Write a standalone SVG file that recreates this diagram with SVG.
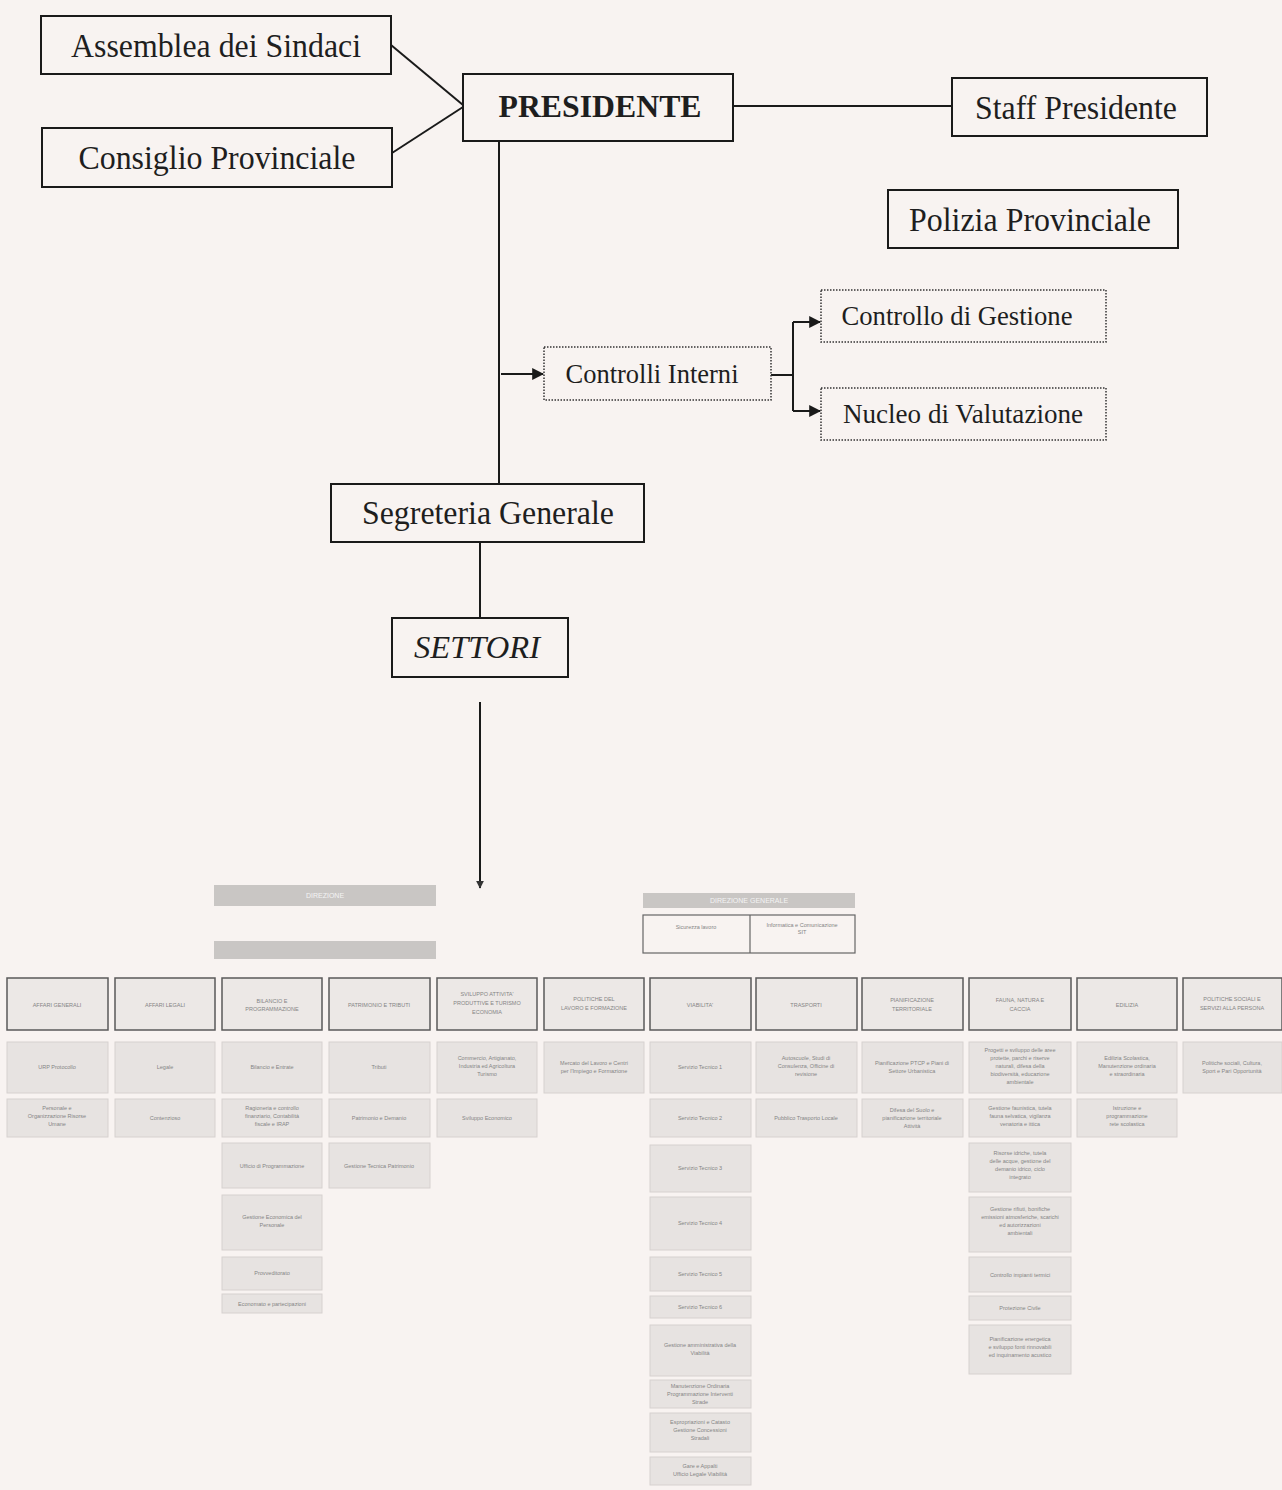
<svg xmlns="http://www.w3.org/2000/svg" width="1282" height="1490" viewBox="0 0 1282 1490">
<defs>
<marker id="ah" viewBox="0 0 10 10" refX="9" refY="5" markerWidth="12" markerHeight="12" markerUnits="userSpaceOnUse" orient="auto"><path d="M0,0 L10,5 L0,10 z" fill="#1a1a1a"/></marker>
<marker id="ahs" viewBox="0 0 10 10" refX="9" refY="5" markerWidth="8" markerHeight="8" markerUnits="userSpaceOnUse" orient="auto"><path d="M0,0 L10,5 L0,10 z" fill="#333"/></marker>
</defs>
<style>
.bx{fill:#f8f3f1;stroke:#1a1a1a;stroke-width:2}
.dbx{fill:#f8f3f1;stroke:#333;stroke-width:1.5;stroke-dasharray:1.5 1.5}
.t{font-family:"Liberation Serif","Times New Roman",serif;fill:#1e1e1e;text-anchor:middle}
.ln{stroke:#1a1a1a;stroke-width:2;fill:none}
.sec{fill:#ece8e6;stroke:#5a5a5a;stroke-width:1.5}
.sub{fill:#e7e3e1;stroke:#d6d1cf;stroke-width:1}
.bar{fill:#c9c6c4}
.st{font-family:"Liberation Sans",Arial,sans-serif;font-size:5.5px;fill:#858585;text-anchor:middle}
.bt{font-family:"Liberation Sans",Arial,sans-serif;font-size:7px;fill:#f4f4f4;text-anchor:middle}
</style>
<rect width="1282" height="1490" fill="#f8f3f1"/>

<g id="connectors">
<line class="ln" x1="391" y1="45" x2="463" y2="105"/>
<line class="ln" x1="392" y1="153" x2="463" y2="107"/>
<line class="ln" x1="733" y1="106" x2="952" y2="106"/>
<line class="ln" x1="499" y1="141" x2="499" y2="484"/>
<line class="ln" x1="501" y1="374" x2="543" y2="374" marker-end="url(#ah)"/>
<line class="ln" x1="771" y1="375" x2="793" y2="375"/>
<line class="ln" x1="793" y1="322" x2="793" y2="411"/>
<line class="ln" x1="793" y1="322" x2="820" y2="322" marker-end="url(#ah)"/>
<line class="ln" x1="793" y1="411" x2="820" y2="411" marker-end="url(#ah)"/>
<line class="ln" x1="480" y1="542" x2="480" y2="618"/>
<line class="ln" x1="480" y1="702" x2="480" y2="888" marker-end="url(#ahs)"/>
</g>

<g id="assemblea"><rect class="bx" x="41" y="16" width="350" height="58"/><text class="t" x="216" y="57" font-size="33" textLength="290" lengthAdjust="spacingAndGlyphs">Assemblea dei Sindaci</text></g>
<g id="consiglio"><rect class="bx" x="42" y="128" width="350" height="59"/><text class="t" x="217" y="169" font-size="33" textLength="277" lengthAdjust="spacingAndGlyphs">Consiglio Provinciale</text></g>
<g id="presidente"><rect class="bx" x="463" y="74" width="270" height="67"/><text class="t" x="600" y="117" font-size="32" font-weight="bold" textLength="203" lengthAdjust="spacingAndGlyphs">PRESIDENTE</text></g>
<g id="staff"><rect class="bx" x="952" y="78" width="255" height="58"/><text class="t" x="1076" y="119" font-size="33" textLength="202" lengthAdjust="spacingAndGlyphs">Staff Presidente</text></g>
<g id="polizia"><rect class="bx" x="888" y="190" width="290" height="58"/><text class="t" x="1030" y="231" font-size="33" textLength="242" lengthAdjust="spacingAndGlyphs">Polizia Provinciale</text></g>
<g id="controlli"><rect class="dbx" x="544" y="347" width="227" height="53"/><text class="t" x="652" y="383" font-size="27" textLength="173" lengthAdjust="spacingAndGlyphs">Controlli Interni</text></g>
<g id="gestione"><rect class="dbx" x="821" y="290" width="285" height="52"/><text class="t" x="957" y="325" font-size="27" textLength="231" lengthAdjust="spacingAndGlyphs">Controllo di Gestione</text></g>
<g id="nucleo"><rect class="dbx" x="821" y="388" width="285" height="52"/><text class="t" x="963" y="423" font-size="27" textLength="240" lengthAdjust="spacingAndGlyphs">Nucleo di Valutazione</text></g>
<g id="segreteria"><rect class="bx" x="331" y="484" width="313" height="58"/><text class="t" x="488" y="524" font-size="33" textLength="252" lengthAdjust="spacingAndGlyphs">Segreteria Generale</text></g>
<g id="settori"><rect class="bx" x="392" y="618" width="176" height="59"/><text class="t" x="477" y="658" font-size="32" font-style="italic" textLength="126" lengthAdjust="spacingAndGlyphs">SETTORI</text></g>

<g id="direzione">
<rect class="bar" x="214" y="885" width="222" height="21"/><text class="bt" x="325" y="898">DIREZIONE</text>
<rect class="bar" x="214" y="941" width="222" height="18"/>
</g>
<g id="direzione2">
<rect class="bar" x="643" y="893" width="212" height="15"/><text class="bt" x="749" y="903">DIREZIONE GENERALE</text>
<rect x="643" y="915" width="212" height="38" fill="#f8f3f1" stroke="#666" stroke-width="1.2"/>
<line x1="750" y1="915" x2="750" y2="953" stroke="#666" stroke-width="1.2"/>
<text class="st" x="696" y="929">Sicurezza lavoro</text>
<text class="st" x="802" y="927">Informatica e Comunicazione</text><text class="st" x="802" y="934">SIT</text>
</g>

<g id="sec1"><rect class="sec" x="7" y="978" width="101" height="52"/><text class="st" x="57" y="1007">AFFARI GENERALI</text></g>
<g id="sec2"><rect class="sec" x="115" y="978" width="100" height="52"/><text class="st" x="165" y="1007">AFFARI LEGALI</text></g>
<g id="sec3"><rect class="sec" x="222" y="978" width="100" height="52"/><text class="st" x="272" y="1003">BILANCIO E</text><text class="st" x="272" y="1011">PROGRAMMAZIONE</text></g>
<g id="sec4"><rect class="sec" x="329" y="978" width="101" height="52"/><text class="st" x="379" y="1007">PATRIMONIO E TRIBUTI</text></g>
<g id="sec5"><rect class="sec" x="437" y="978" width="100" height="52"/><text class="st" x="487" y="996">SVILUPPO ATTIVITA'</text><text class="st" x="487" y="1005">PRODUTTIVE E TURISMO</text><text class="st" x="487" y="1014">ECONOMIA</text></g>
<g id="sec6"><rect class="sec" x="544" y="978" width="100" height="52"/><text class="st" x="594" y="1001">POLITICHE DEL</text><text class="st" x="594" y="1010">LAVORO E FORMAZIONE</text></g>
<g id="sec7"><rect class="sec" x="650" y="978" width="101" height="52"/><text class="st" x="700" y="1007">VIABILITA'</text></g>
<g id="sec8"><rect class="sec" x="756" y="978" width="101" height="52"/><text class="st" x="806" y="1007">TRASPORTI</text></g>
<g id="sec9"><rect class="sec" x="862" y="978" width="101" height="52"/><text class="st" x="912" y="1002">PIANIFICAZIONE</text><text class="st" x="912" y="1011">TERRITORIALE</text></g>
<g id="sec10"><rect class="sec" x="969" y="978" width="102" height="52"/><text class="st" x="1020" y="1002">FAUNA, NATURA E</text><text class="st" x="1020" y="1011">CACCIA</text></g>
<g id="sec11"><rect class="sec" x="1077" y="978" width="100" height="52"/><text class="st" x="1127" y="1007">EDILIZIA</text></g>
<g id="sec12"><rect class="sec" x="1183" y="978" width="99" height="52"/><text class="st" x="1232" y="1001">POLITICHE SOCIALI E</text><text class="st" x="1232" y="1010">SERVIZI ALLA PERSONA</text></g>

<g id="sub1">
<rect class="sub" x="7" y="1042" width="101" height="51"/><text class="st" x="57" y="1069">URP Protocollo</text>
<rect class="sub" x="7" y="1099" width="101" height="38"/><text class="st" x="57" y="1110">Personale e</text><text class="st" x="57" y="1118">Organizzazione Risorse</text><text class="st" x="57" y="1126">Umane</text>
</g>
<g id="sub2">
<rect class="sub" x="115" y="1042" width="100" height="51"/><text class="st" x="165" y="1069">Legale</text>
<rect class="sub" x="115" y="1099" width="100" height="38"/><text class="st" x="165" y="1120">Contenzioso</text>
</g>
<g id="sub3">
<rect class="sub" x="222" y="1042" width="100" height="51"/><text class="st" x="272" y="1069">Bilancio e Entrate</text>
<rect class="sub" x="222" y="1099" width="100" height="38"/><text class="st" x="272" y="1110">Ragioneria e controllo</text><text class="st" x="272" y="1118">finanziario, Contabilità</text><text class="st" x="272" y="1126">fiscale e IRAP</text>
<rect class="sub" x="222" y="1143" width="100" height="45"/><text class="st" x="272" y="1168">Ufficio di Programmazione</text>
<rect class="sub" x="222" y="1195" width="100" height="55"/><text class="st" x="272" y="1219">Gestione Economica del</text><text class="st" x="272" y="1227">Personale</text>
<rect class="sub" x="222" y="1257" width="100" height="33"/><text class="st" x="272" y="1275">Provveditorato</text>
<rect class="sub" x="222" y="1294" width="100" height="19"/><text class="st" x="272" y="1306">Economato e partecipazioni</text>
</g>
<g id="sub4">
<rect class="sub" x="329" y="1042" width="101" height="51"/><text class="st" x="379" y="1069">Tributi</text>
<rect class="sub" x="329" y="1099" width="101" height="38"/><text class="st" x="379" y="1120">Patrimonio e Demanio</text>
<rect class="sub" x="329" y="1143" width="101" height="45"/><text class="st" x="379" y="1168">Gestione Tecnica Patrimonio</text>
</g>
<g id="sub5">
<rect class="sub" x="437" y="1042" width="100" height="51"/><text class="st" x="487" y="1060">Commercio, Artigianato,</text><text class="st" x="487" y="1068">Industria ed Agricoltura</text><text class="st" x="487" y="1076">Turismo</text>
<rect class="sub" x="437" y="1099" width="100" height="38"/><text class="st" x="487" y="1120">Sviluppo Economico</text>
</g>
<g id="sub6">
<rect class="sub" x="544" y="1042" width="100" height="51"/><text class="st" x="594" y="1065">Mercato del Lavoro e Centri</text><text class="st" x="594" y="1073">per l'Impiego e Formazione</text>
</g>
<g id="sub7">
<rect class="sub" x="650" y="1042" width="101" height="51"/><text class="st" x="700" y="1069">Servizio Tecnico 1</text>
<rect class="sub" x="650" y="1099" width="101" height="38"/><text class="st" x="700" y="1120">Servizio Tecnico 2</text>
<rect class="sub" x="650" y="1145" width="101" height="47"/><text class="st" x="700" y="1170">Servizio Tecnico 3</text>
<rect class="sub" x="650" y="1197" width="101" height="53"/><text class="st" x="700" y="1225">Servizio Tecnico 4</text>
<rect class="sub" x="650" y="1257" width="101" height="34"/><text class="st" x="700" y="1276">Servizio Tecnico 5</text>
<rect class="sub" x="650" y="1296" width="101" height="22"/><text class="st" x="700" y="1309">Servizio Tecnico 6</text>
<rect class="sub" x="650" y="1325" width="101" height="51"/><text class="st" x="700" y="1347">Gestione amministrativa della</text><text class="st" x="700" y="1355">Viabilità</text>
<rect class="sub" x="650" y="1380" width="101" height="28"/><text class="st" x="700" y="1388">Manutenzione Ordinaria</text><text class="st" x="700" y="1396">Programmazione Interventi</text><text class="st" x="700" y="1404">Strade</text>
<rect class="sub" x="650" y="1413" width="101" height="39"/><text class="st" x="700" y="1424">Espropriazioni e Catasto</text><text class="st" x="700" y="1432">Gestione Concessioni</text><text class="st" x="700" y="1440">Stradali</text>
<rect class="sub" x="650" y="1457" width="101" height="28"/><text class="st" x="700" y="1468">Gare e Appalti</text><text class="st" x="700" y="1476">Ufficio Legale Viabilità</text>
</g>
<g id="sub8">
<rect class="sub" x="756" y="1042" width="101" height="51"/><text class="st" x="806" y="1060">Autoscuole, Studi di</text><text class="st" x="806" y="1068">Consulenza, Officine di</text><text class="st" x="806" y="1076">revisione</text>
<rect class="sub" x="756" y="1099" width="101" height="38"/><text class="st" x="806" y="1120">Pubblico Trasporto Locale</text>
</g>
<g id="sub9">
<rect class="sub" x="862" y="1042" width="101" height="51"/><text class="st" x="912" y="1065">Pianificazione PTCP e Piani di</text><text class="st" x="912" y="1073">Settore Urbanistica</text>
<rect class="sub" x="862" y="1099" width="101" height="38"/><text class="st" x="912" y="1112">Difesa del Suolo e</text><text class="st" x="912" y="1120">pianificazione territoriale</text><text class="st" x="912" y="1128">Attività</text>
</g>
<g id="sub10">
<rect class="sub" x="969" y="1042" width="102" height="51"/><text class="st" x="1020" y="1052">Progetti e sviluppo delle aree</text><text class="st" x="1020" y="1060">protette, parchi e riserve</text><text class="st" x="1020" y="1068">naturali, difesa della</text><text class="st" x="1020" y="1076">biodiversità, educazione</text><text class="st" x="1020" y="1084">ambientale</text>
<rect class="sub" x="969" y="1099" width="102" height="38"/><text class="st" x="1020" y="1110">Gestione faunistica, tutela</text><text class="st" x="1020" y="1118">fauna selvatica, vigilanza</text><text class="st" x="1020" y="1126">venatoria e ittica</text>
<rect class="sub" x="969" y="1143" width="102" height="49"/><text class="st" x="1020" y="1155">Risorse idriche, tutela</text><text class="st" x="1020" y="1163">delle acque, gestione del</text><text class="st" x="1020" y="1171">demanio idrico, ciclo</text><text class="st" x="1020" y="1179">integrato</text>
<rect class="sub" x="969" y="1197" width="102" height="55"/><text class="st" x="1020" y="1211">Gestione rifiuti, bonifiche</text><text class="st" x="1020" y="1219">emissioni atmosferiche, scarichi</text><text class="st" x="1020" y="1227">ed autorizzazioni</text><text class="st" x="1020" y="1235">ambientali</text>
<rect class="sub" x="969" y="1257" width="102" height="35"/><text class="st" x="1020" y="1277">Controllo impianti termici</text>
<rect class="sub" x="969" y="1296" width="102" height="24"/><text class="st" x="1020" y="1310">Protezione Civile</text>
<rect class="sub" x="969" y="1325" width="102" height="49"/><text class="st" x="1020" y="1341">Pianificazione energetica</text><text class="st" x="1020" y="1349">e sviluppo fonti rinnovabili</text><text class="st" x="1020" y="1357">ed inquinamento acustico</text>
</g>
<g id="sub11">
<rect class="sub" x="1077" y="1042" width="100" height="51"/><text class="st" x="1127" y="1060">Edilizia Scolastica,</text><text class="st" x="1127" y="1068">Manutenzione ordinaria</text><text class="st" x="1127" y="1076">e straordinaria</text>
<rect class="sub" x="1077" y="1099" width="100" height="38"/><text class="st" x="1127" y="1110">Istruzione e</text><text class="st" x="1127" y="1118">programmazione</text><text class="st" x="1127" y="1126">rete scolastica</text>
</g>
<g id="sub12">
<rect class="sub" x="1183" y="1042" width="99" height="51"/><text class="st" x="1232" y="1065">Politiche sociali, Cultura,</text><text class="st" x="1232" y="1073">Sport e Pari Opportunità</text>
</g>
</svg>
